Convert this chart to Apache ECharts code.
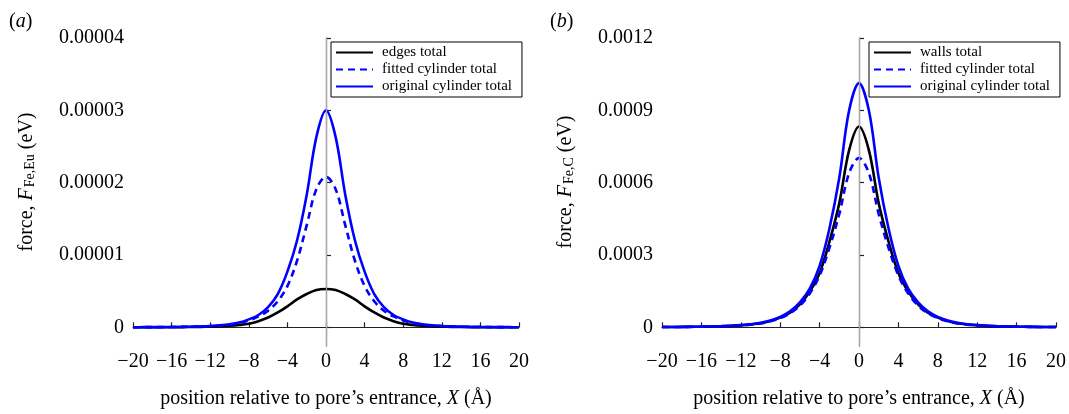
<!DOCTYPE html>
<html><head><meta charset="utf-8">
<script src="https://cdn.jsdelivr.net/npm/echarts@6/dist/echarts.min.js"></script>
<style>html,body{margin:0;padding:0;background:#fff}#c{width:1069px;height:414px}</style>
</head><body><div id="c"></div>
<script>
// x positions (Å)
const xValues = [-20,-19,-18,-17,-16,-15,-14,-13,-12,-11,-10,-9,-8,-7,-6,-5,-4,-3,-2,-1,0,1,2,3,4,5,6,7,8,9,10,11,12,13,14,15,16,17,18,19,20];
const xTickLabels = ['\u221220','\u221216','\u221212','\u22128','\u22124','0','4','8','12','16','20'];

// panel (a) values in units of 1e-5 eV
const aEdges = [0.0006,0.0008,0.001,0.0015,0.002,0.003,0.004,0.006,0.009,0.014,0.021,0.032,0.05,0.085,0.135,0.205,0.29,0.385,0.46,0.515,0.53,0.515,0.46,0.385,0.29,0.205,0.135,0.085,0.05,0.032,0.021,0.014,0.009,0.006,0.004,0.003,0.002,0.0015,0.001,0.0008,0.0006];
const aFitted = [0.0013,0.0017,0.0023,0.003,0.004,0.0055,0.008,0.012,0.017,0.025,0.037,0.058,0.095,0.15,0.23,0.36,0.57,0.92,1.41,1.91,2.08,1.91,1.41,0.92,0.57,0.36,0.23,0.15,0.095,0.058,0.037,0.025,0.017,0.012,0.008,0.0055,0.004,0.003,0.0023,0.0017,0.0013];
const aOriginal = [0.0015,0.0019,0.0025,0.0033,0.0045,0.006,0.009,0.013,0.019,0.028,0.042,0.065,0.11,0.17,0.28,0.46,0.77,1.20,1.83,2.63,3.00,2.63,1.83,1.20,0.77,0.46,0.28,0.17,0.11,0.065,0.042,0.028,0.019,0.013,0.009,0.006,0.0045,0.0033,0.0025,0.0019,0.0015];
const aTicks = [0,1,2,3,4];
const aTickLabels = ['0','0.00001','0.00002','0.00003','0.00004'];

// panel (b) values in units of 1e-3 eV
const bWalls = [0.001,0.0013,0.0016,0.002,0.0026,0.0034,0.0045,0.006,0.0085,0.012,0.017,0.026,0.04,0.061,0.095,0.148,0.225,0.355,0.515,0.735,0.833,0.735,0.515,0.355,0.225,0.148,0.095,0.061,0.04,0.026,0.017,0.012,0.0085,0.006,0.0045,0.0034,0.0026,0.002,0.0016,0.0013,0.001];
const bFitted = [0.001,0.0012,0.0015,0.0019,0.0025,0.0032,0.0043,0.0058,0.008,0.011,0.016,0.025,0.038,0.058,0.09,0.14,0.215,0.33,0.47,0.64,0.702,0.64,0.47,0.33,0.215,0.14,0.09,0.058,0.038,0.025,0.016,0.011,0.008,0.0058,0.0043,0.0032,0.0025,0.0019,0.0015,0.0012,0.001];
const bOriginal = [0.0011,0.0014,0.0017,0.0022,0.0028,0.0036,0.0048,0.0065,0.009,0.013,0.019,0.028,0.043,0.066,0.103,0.16,0.255,0.41,0.62,0.90,1.013,0.90,0.62,0.41,0.255,0.16,0.103,0.066,0.043,0.028,0.019,0.013,0.009,0.0065,0.0048,0.0036,0.0028,0.0022,0.0017,0.0014,0.0011];
const bTicks = [0,0.3,0.6,0.9,1.2];
const bTickLabels = ['0','0.0003','0.0006','0.0009','0.0012'];

const FONT = '"Liberation Serif","DejaVu Serif",serif';
const AX = '#222';

function pairs(arr){ return xValues.map((x,i)=>[x,arr[i]]); }
function tickLabel(ticks, labels){ return v => { let best=0; for(let i=0;i<ticks.length;i++){ if(Math.abs(ticks[i]-v)<Math.abs(ticks[best]-v)) best=i; } return labels[best]; }; }

function xAxisDef(gi){
  return {
    type:'value', gridIndex:gi, min:-20, max:20, interval:4,
    axisLine:{show:true,lineStyle:{color:AX,width:1.2}},
    axisTick:{show:true,inside:true,length:5,lineStyle:{color:AX,width:1.2}},
    axisLabel:{margin:6,fontFamily:FONT,fontSize:20,color:'#000',
      formatter: v => xTickLabels[Math.round((v+20)/4)]},
    splitLine:{show:false},
    name:'position relative to pore\u2019s entrance, {i|X} (\u00c5)',
    nameLocation:'middle', nameGap:43,
    nameTextStyle:{fontFamily:FONT,fontSize:20,color:'#000',
      rich:{i:{fontFamily:FONT,fontSize:20,fontStyle:'italic',color:'#000'}}}
  };
}
function yAxisDef(gi, min, max, ticks, labels, sub, gap){
  return {
    type:'value', gridIndex:gi, min:min, max:max,
    axisLine:{show:true,lineStyle:{color:AX,width:1.2}},
    axisTick:{show:true,inside:true,length:5,customValues:ticks,lineStyle:{color:AX,width:1.2}},
    axisLabel:{margin:9,fontFamily:FONT,fontSize:20,color:'#000',customValues:ticks,
      formatter: tickLabel(ticks,labels)},
    splitLine:{show:false},
    name:'{n|force, }{i|F}{s|'+sub+'}{n| (eV)}',
    nameLocation:'middle', nameRotate:90, nameGap:gap,
    nameTextStyle:{fontFamily:FONT,fontSize:20,color:'#000',padding:[0,0,0,20],
      rich:{
        n:{fontFamily:FONT,fontSize:20,color:'#000',lineHeight:20,verticalAlign:'top'},
        i:{fontFamily:FONT,fontSize:20,fontStyle:'italic',color:'#000',lineHeight:20,verticalAlign:'top'},
        s:{fontFamily:FONT,fontSize:14,color:'#000',lineHeight:14,verticalAlign:'bottom',padding:[10,0,0,1]}
      }}
  };
}
const vline = {silent:true,symbol:['none','none'],label:{show:false},
  lineStyle:{color:'#aaa',width:1.2,type:'solid'},data:[{xAxis:0}],animation:false};

function lineSeries(name, gi, arr, color, dashed, withLine){
  const s = {name:name,type:'line',xAxisIndex:gi,yAxisIndex:gi,data:pairs(arr),
    smooth:0.35,symbol:'none',showSymbol:false,
    lineStyle:{color:color,width:2.6,type:dashed?[7,5]:'solid'},
    itemStyle:{color:color},animation:false};
  if(withLine) s.markLine = vline;
  return s;
}
function legendDef(left, top, names){
  return {left:left, top:top, orient:'vertical', data:names,
    backgroundColor:'#fff', borderColor:'#000', borderWidth:1,
    padding:[3,10,3,4], itemGap:2, itemWidth:37, itemHeight:15,
    itemStyle:{opacity:0},
    textStyle:{fontFamily:FONT,fontSize:15,color:'#000',padding:[0,0,0,4]},
    selectedMode:false};
}
const titleRich = {p:{fontFamily:FONT,fontSize:20,fontWeight:'normal',color:'#000'},
  i:{fontFamily:FONT,fontSize:20,fontWeight:'normal',fontStyle:'italic',color:'#000'}};

const chart = echarts.init(document.getElementById('c'), null, {renderer:'canvas'});
chart.setOption({
  backgroundColor:'#fff',
  animation:false,
  title:[
    {text:'{p|(}{i|a}{p|)}',left:9,top:12,padding:0,textStyle:{fontWeight:'normal',rich:titleRich}},
    {text:'{p|(}{i|b}{p|)}',left:550,top:12,padding:0,textStyle:{fontWeight:'normal',rich:titleRich}}
  ],
  grid:[
    {left:133, top:38, width:386, height:313},
    {left:662, top:38, width:394, height:313}
  ],
  xAxis:[xAxisDef(0), xAxisDef(1)],
  yAxis:[
    yAxisDef(0, -0.2585, 4, aTicks, aTickLabels, 'Fe,Eu', 96),
    yAxisDef(1, -0.07755, 1.2, bTicks, bTickLabels, 'Fe,C', 86)
  ],
  legend:[
    legendDef(331, 42, ['edges total','fitted cylinder total','original cylinder total']),
    legendDef(869, 42, ['walls total','fitted cylinder total','original cylinder total'])
  ],
  series:[
    lineSeries('edges total',0,aEdges,'#000',false,true),
    lineSeries('fitted cylinder total',0,aFitted,'#0000ff',true,false),
    lineSeries('original cylinder total',0,aOriginal,'#0000ff',false,false),
    lineSeries('walls total',1,bWalls,'#000',false,true),
    lineSeries('fitted cylinder total',1,bFitted,'#0000ff',true,false),
    lineSeries('original cylinder total',1,bOriginal,'#0000ff',false,false)
  ]
});
</script></body></html>
